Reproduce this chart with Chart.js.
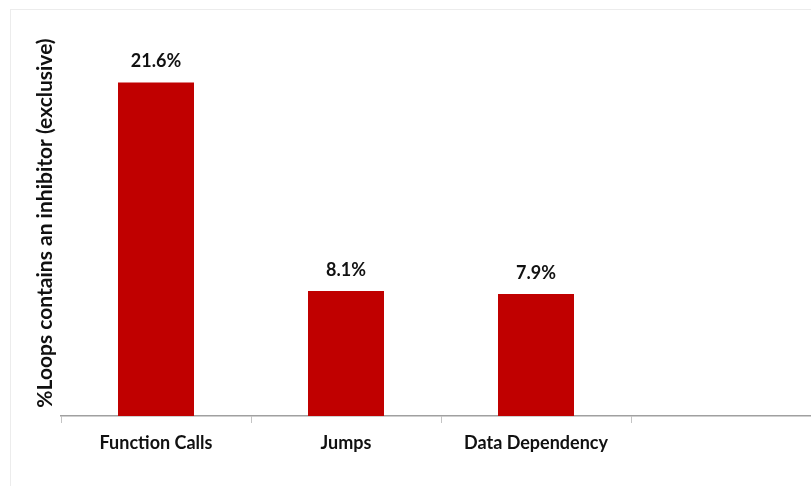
<!DOCTYPE html>
<html>
<head>
<meta charset="utf-8">
<script src="https://cdn.jsdelivr.net/npm/chart.js@4/dist/chart.umd.min.js"></script>
<style>
  html, body { margin: 0; padding: 0; background: #fff; overflow: hidden; }
  #wrap { width: 811px; height: 486px; overflow: hidden; }
</style>
</head>
<body>
<div id="wrap"><canvas id="c" width="830" height="486"></canvas></div>
<script>
// Inhibitor categories and the share of loops containing each one (exclusive)
const categories = ['Function Calls', 'Jumps', 'Data Dependency', ''];
const loopShare = [21.6, 8.1, 7.9, null];
const axisTitle = '%Loops contains an inhibitor (exclusive)';

const FONT = 'Lato, "Open Sans", sans-serif';

// light frame around the chart region
const framePlugin = {
  id: 'frame',
  beforeDraw(chart) {
    const ctx = chart.ctx;
    ctx.save();
    ctx.strokeStyle = '#ececec';
    ctx.lineWidth = 1;
    ctx.strokeRect(10.5, 9.5, chart.width + 20, chart.height + 20);
    ctx.restore();
  }
};

// percentage labels above each bar
const valueLabels = {
  id: 'valueLabels',
  afterDatasetsDraw(chart) {
    const ctx = chart.ctx;
    const meta = chart.getDatasetMeta(0);
    ctx.save();
    ctx.font = 'bold 18px ' + FONT;
    ctx.fillStyle = '#111';
    ctx.textAlign = 'center';
    ctx.textBaseline = 'middle';
    meta.data.forEach((bar, i) => {
      const v = loopShare[i];
      if (v == null) return;
      ctx.fillText(v.toFixed(1) + '%', bar.x, bar.y - 21);
    });
    ctx.restore();
  }
};

new Chart(document.getElementById('c'), {
  type: 'bar',
  data: {
    labels: categories,
    datasets: [{
      data: loopShare,
      backgroundColor: '#C00000',
      barPercentage: 0.4,
      categoryPercentage: 1.0
    }]
  },
  options: {
    responsive: false,
    animation: false,
    layout: { padding: { top: 30, right: 9, left: 0, bottom: 0 } },
    plugins: { legend: { display: false }, tooltip: { enabled: false } },
    scales: {
      x: {
        grid: {
          display: true,
          drawOnChartArea: false,
          drawTicks: true,
          tickLength: 7,
          color: '#c4c4c4',
          offset: true
        },
        border: { display: true, color: '#a0a0a0', width: 1.5 },
        ticks: {
          color: '#111',
          padding: 9,
          font: { family: FONT, weight: 'bold', size: 18 },
          maxRotation: 0
        },
        afterFit(s) { s.height = 70; }
      },
      y: {
        min: 0,
        max: 25,
        grid: { display: false, drawTicks: false },
        border: { display: false },
        ticks: { display: false },
        title: {
          display: true,
          text: axisTitle,
          color: '#111',
          font: { family: FONT, weight: 'bold', size: 21 },
          padding: { top: 33, bottom: 0 }
        },
        afterFit(s) { s.width = 61; }
      }
    }
  },
  plugins: [framePlugin, valueLabels]
});
</script>
</body>
</html>
